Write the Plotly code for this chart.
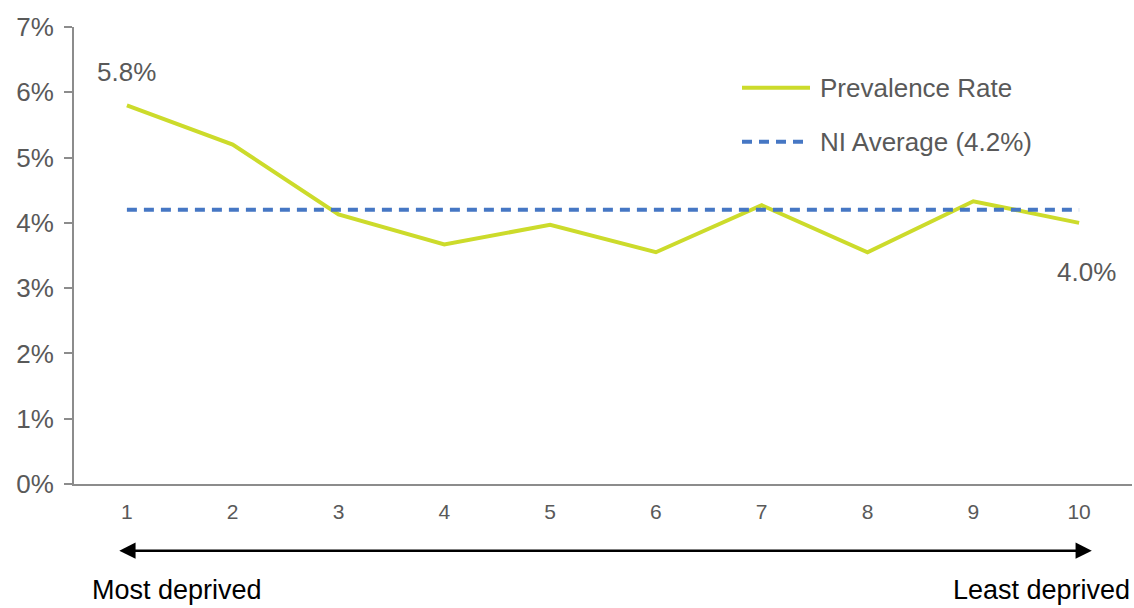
import plotly.graph_objects as go

# Deprivation deciles (1 = most deprived, 10 = least deprived)
deciles = ["1", "2", "3", "4", "5", "6", "7", "8", "9", "10"]
prevalence = [5.8, 5.2, 4.13, 3.67, 3.97, 3.55, 4.27, 3.55, 4.33, 4.0]
ni_average = 4.2
y_ticks = [0, 1, 2, 3, 4, 5, 6, 7]
y_tick_labels = [f"{v}%" for v in y_ticks]

FONT = "Arial, 'Liberation Sans', sans-serif"
TEXT = "#595959"
LIME = "#CCDB2B"
BLUE = "#4677C4"
AXIS = "#8C8C8C"

fig = go.Figure()

fig.add_trace(go.Scatter(
    x=deciles, y=prevalence, mode="lines",
    line=dict(color=LIME, width=4),
    name="Prevalence Rate", showlegend=False,
))
fig.add_trace(go.Scatter(
    x=deciles, y=[ni_average] * len(deciles), mode="lines",
    line=dict(color=BLUE, width=4, dash="10px,7px"),
    name=f"NI Average ({ni_average}%)", showlegend=False,
))

# End-point value labels (category axis positions are indices)
first, last = 0, len(deciles) - 1
fig.add_annotation(x=first, y=prevalence[first], text=f"{prevalence[first]:.1f}%",
                   showarrow=False, yshift=33, font=dict(size=26, color=TEXT, family=FONT))
fig.add_annotation(x=last, y=prevalence[last], text=f"{prevalence[last]:.1f}%",
                   showarrow=False, yshift=-49, xshift=7, font=dict(size=26, color=TEXT, family=FONT))

# Hand-drawn legend
legend_items = [("Prevalence Rate", LIME, "solid", 0.867), (f"NI Average ({ni_average}%)", BLUE, "10px,7px", 0.749)]
for label, color, dash, ypos in legend_items:
    fig.add_shape(type="line", xref="paper", yref="paper",
                  x0=(742 - 74) / 1058, x1=(810 - 74) / 1058, y0=ypos, y1=ypos,
                  line=dict(color=color, width=4, dash=dash))
    fig.add_annotation(xref="paper", yref="paper", x=(818 - 74) / 1058, y=ypos,
                       xanchor="left", yanchor="middle", text=label, showarrow=False,
                       font=dict(size=26, color=TEXT, family=FONT))

# Double-headed deprivation arrow below the axis
fig.add_annotation(xref="x", yref="paper", x=9.12, y=-0.146,
                   axref="pixel", ayref="pixel", ax=-974, ay=0,
                   text="", showarrow=True, arrowside="end+start",
                   arrowhead=2, arrowsize=1.3, arrowwidth=2.5, arrowcolor="#000000")
end_label_y = -(607 - 484) / 457
fig.add_annotation(xref="paper", yref="paper", x=(90 - 74) / 1058, y=end_label_y,
                   xanchor="left", yanchor="bottom", text="Most deprived", showarrow=False,
                   font=dict(size=27, color="#000000", family=FONT))
fig.add_annotation(xref="paper", yref="paper", x=(1132 - 74) / 1058, y=end_label_y,
                   xanchor="right", yanchor="bottom", text="Least deprived", showarrow=False,
                   font=dict(size=27, color="#000000", family=FONT))

fig.update_xaxes(
    type="category", range=[-0.5, 9.5],
    showline=True, linecolor=AXIS, linewidth=2,
    ticks="", showgrid=False, zeroline=False,
    tickfont=dict(size=21, color=TEXT, family=FONT),
    ticklabelstandoff=8,
)
fig.update_yaxes(
    range=[0, 7], tickvals=y_ticks, ticktext=y_tick_labels,
    showline=True, linecolor=AXIS, linewidth=2,
    ticks="outside", ticklen=8, tickwidth=2, tickcolor=AXIS,
    showgrid=False, zeroline=False,
    tickfont=dict(size=26, color=TEXT, family=FONT),
    ticklabelstandoff=5,
)

fig.update_layout(
    width=1134, height=608,
    margin=dict(l=74, r=2, t=27, b=124),
    plot_bgcolor="white", paper_bgcolor="white",
    showlegend=False,
)

fig.write_html("out.html")
